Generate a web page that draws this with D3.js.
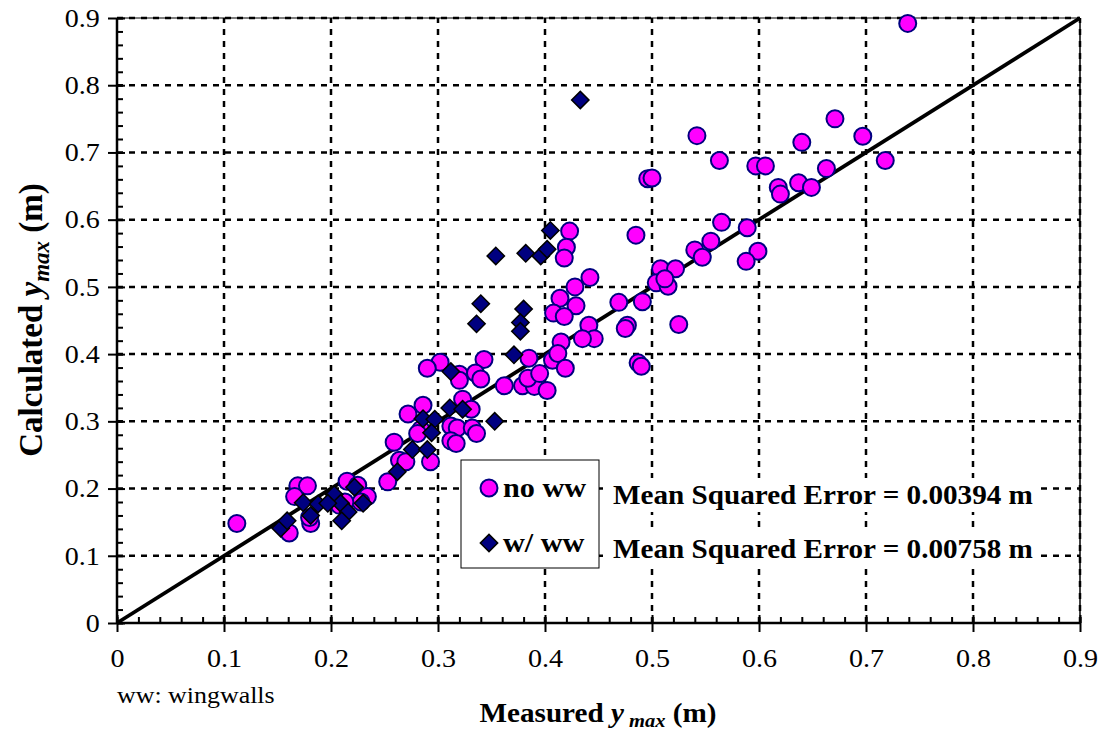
<!DOCTYPE html>
<html>
<head>
<meta charset="utf-8">
<script src="https://cdn.jsdelivr.net/npm/d3@7"></script>
<style>
  html, body { margin: 0; padding: 0; background: #fff; }
  svg { display: block; }
  text { font-family: "Liberation Serif", "Times New Roman", serif; fill: #000; }
</style>
</head>
<body>
<svg id="chart" width="1103" height="734"></svg>
<script>
// ---- data (measured, calculated) ----
const noWW = [
  [0.739,0.892],[0.671,0.750],[0.542,0.725],[0.697,0.724],[0.640,0.715],[0.563,0.688],[0.718,0.688],
  [0.597,0.680],[0.606,0.680],[0.496,0.661],[0.500,0.662],[0.663,0.676],[0.618,0.648],[0.620,0.638],
  [0.637,0.655],[0.649,0.648],[0.565,0.596],[0.589,0.588],[0.485,0.577],[0.599,0.553],[0.588,0.538],
  [0.555,0.568],[0.540,0.555],[0.547,0.544],[0.508,0.527],[0.522,0.527],[0.504,0.506],[0.515,0.501],
  [0.512,0.512],[0.491,0.478],[0.469,0.477],[0.525,0.444],[0.477,0.443],[0.475,0.438],[0.441,0.443],
  [0.446,0.423],[0.435,0.423],[0.442,0.514],[0.428,0.500],[0.429,0.472],[0.414,0.483],[0.408,0.461],
  [0.418,0.456],[0.423,0.583],[0.420,0.559],[0.418,0.543],[0.415,0.418],[0.407,0.391],[0.412,0.401],
  [0.419,0.379],[0.385,0.394],[0.487,0.387],[0.490,0.382],[0.343,0.392],[0.302,0.388],[0.290,0.379],
  [0.320,0.370],[0.320,0.361],[0.335,0.372],[0.340,0.363],[0.362,0.353],[0.379,0.353],[0.390,0.352],
  [0.384,0.364],[0.395,0.371],[0.402,0.346],[0.286,0.324],[0.272,0.311],[0.323,0.333],[0.331,0.318],
  [0.312,0.293],[0.318,0.290],[0.332,0.290],[0.336,0.282],[0.312,0.271],[0.317,0.267],[0.284,0.288],
  [0.281,0.282],[0.259,0.269],[0.293,0.240],[0.264,0.242],[0.270,0.240],[0.215,0.211],[0.225,0.205],
  [0.253,0.210],[0.112,0.148],[0.161,0.134],[0.169,0.204],[0.178,0.204],[0.166,0.188],[0.181,0.148],
  [0.234,0.188],[0.228,0.180],[0.180,0.157],[0.208,0.175],[0.213,0.180]
];
const withWW = [
  [0.433,0.778],[0.405,0.584],[0.354,0.546],[0.382,0.550],[0.396,0.546],[0.402,0.556],[0.340,0.475],
  [0.336,0.445],[0.380,0.467],[0.377,0.447],[0.377,0.434],[0.371,0.399],[0.312,0.374],[0.353,0.300],
  [0.311,0.320],[0.323,0.318],[0.286,0.304],[0.297,0.303],[0.294,0.283],[0.276,0.258],[0.290,0.258],
  [0.262,0.225],[0.153,0.141],[0.159,0.152],[0.174,0.179],[0.188,0.177],[0.181,0.160],[0.203,0.191],
  [0.209,0.178],[0.216,0.165],[0.210,0.152],[0.222,0.202],[0.230,0.178],[0.197,0.178]
];
const majorTicks = [0,0.1,0.2,0.3,0.4,0.5,0.6,0.7,0.8,0.9];
const tickLabels = ["0","0.1","0.2","0.3","0.4","0.5","0.6","0.7","0.8","0.9"];
const minorTicks = d3.range(0, 46).map(i => +(i*0.02).toFixed(2)).filter(v => v <= 0.9);
const legendLabels = ["no ww", "w/ ww"];
const mseLabels = ["Mean Squared Error = 0.00394 m", "Mean Squared Error = 0.00758 m"];
const noteLabel = "ww: wingwalls";

// ---- layout ----
const FONT = '"Liberation Serif", "Times New Roman", serif';
const SX = 1.08; // horizontal text stretch seen in the reference
const svg = d3.select("#chart");
const x = d3.scaleLinear().domain([0, 0.9]).range([117, 1080]);
const y = d3.scaleLinear().domain([0, 0.9]).range([623, 18]);

function label(parent, tx, ty, size, bold) {
  return parent.append("text")
    .attr("transform", `translate(${tx},${ty}) scale(${SX},1)`)
    .style("font-family", FONT).style("font-size", size + "px")
    .style("font-weight", bold ? "bold" : "normal");
}

// grid
const grid = svg.append("g");
grid.selectAll("line.v").data(majorTicks.slice(1)).enter().append("line")
  .attr("x1", d => x(d)).attr("x2", d => x(d)).attr("y1", y(0)).attr("y2", y(0.9))
  .attr("stroke", "#000").attr("stroke-width", 2.5).attr("stroke-dasharray", "6,6");
grid.selectAll("line.h").data(majorTicks.slice(1)).enter().append("line")
  .attr("x1", x(0)).attr("x2", x(0.9)).attr("y1", d => y(d)).attr("y2", d => y(d))
  .attr("stroke", "#000").attr("stroke-width", 2.5).attr("stroke-dasharray", "6,6");

// frame top/right
svg.append("line").attr("x1", x(0)).attr("x2", x(0.9)).attr("y1", y(0.9)).attr("y2", y(0.9))
  .attr("stroke", "#000").attr("stroke-width", 1.2);
svg.append("line").attr("x1", x(0.9)).attr("x2", x(0.9)).attr("y1", y(0)).attr("y2", y(0.9))
  .attr("stroke", "#000").attr("stroke-width", 1.5);

// 1:1 line
svg.append("line").attr("x1", x(0)).attr("y1", y(0)).attr("x2", x(0.9)).attr("y2", y(0.9))
  .attr("stroke", "#000").attr("stroke-width", 3.8);

// axes
function styleAxis(g) {
  g.attr("font-family", FONT);
  g.select(".domain").remove();
  g.selectAll(".tick line").attr("stroke", "#000").attr("stroke-width", 2);
}
svg.append("g").attr("transform", `translate(0,${y(0)})`)
  .call(d3.axisBottom(x).tickValues(minorTicks).tickSize(-6).tickFormat(""))
  .call(styleAxis);
svg.append("g").attr("transform", `translate(${x(0)},0)`)
  .call(d3.axisLeft(y).tickValues(minorTicks).tickSize(-6).tickFormat(""))
  .call(styleAxis);
const xAx = svg.append("g").attr("transform", `translate(0,${y(0)})`)
  .call(d3.axisBottom(x).tickValues(majorTicks).tickSize(9).tickPadding(17)
        .tickFormat((d, i) => tickLabels[i]))
  .call(styleAxis);
xAx.selectAll(".tick line").attr("y1", -8);
xAx.selectAll("text").style("font-family", FONT).style("font-size", "26px")
  .attr("fill", "#000").attr("transform", `scale(${SX},1)`);
const yAx = svg.append("g").attr("transform", `translate(${x(0)},0)`)
  .call(d3.axisLeft(y).tickValues(majorTicks).tickSize(9).tickPadding(7)
        .tickFormat((d, i) => tickLabels[i]))
  .call(styleAxis);
yAx.selectAll(".tick line").attr("x1", 8);
yAx.selectAll("text").style("font-family", FONT).style("font-size", "26px")
  .attr("fill", "#000").attr("transform", `scale(${SX},1)`);

svg.append("line").attr("x1", x(0)).attr("x2", x(0.9)).attr("y1", y(0)).attr("y2", y(0))
  .attr("stroke", "#000").attr("stroke-width", 2.5);
svg.append("line").attr("x1", x(0)).attr("x2", x(0)).attr("y1", y(0)).attr("y2", y(0.9))
  .attr("stroke", "#000").attr("stroke-width", 2.5);

// points
svg.append("g").selectAll("circle").data(noWW).enter().append("circle")
  .attr("cx", d => x(d[0])).attr("cy", d => y(d[1])).attr("r", 8.5)
  .attr("fill", "#FF00FF").attr("stroke", "#000080").attr("stroke-width", 2);
const diamond = d3.symbol().type(d3.symbolSquare).size(150);
svg.append("g").selectAll("path").data(withWW).enter().append("path")
  .attr("d", diamond)
  .attr("transform", d => `translate(${x(d[0])},${y(d[1])}) rotate(45)`)
  .attr("fill", "#000080").attr("stroke", "#000").attr("stroke-width", 1.5);

// legend
const lg = svg.append("g");
lg.append("rect").attr("x", 461).attr("y", 460).attr("width", 138).attr("height", 108)
  .attr("fill", "#fff").attr("stroke", "#000").attr("stroke-width", 1);
lg.append("circle").attr("cx", 489).attr("cy", 488).attr("r", 8.5)
  .attr("fill", "#FF00FF").attr("stroke", "#000080").attr("stroke-width", 2);
lg.append("path").attr("d", diamond).attr("transform", "translate(489,543) rotate(45)")
  .attr("fill", "#000080").attr("stroke", "#000").attr("stroke-width", 1.5);
legendLabels.forEach((t, i) => label(lg, 503, 497 + i * 55, 28, true).text(t));

// MSE labels
const mse = svg.append("g");
mseLabels.forEach((t, i) => {
  mse.append("rect").attr("x", 607).attr("y", 478 + i * 54).attr("width", 434).attr("height", 34)
    .attr("fill", "#fff");
  label(mse, 613, 504 + i * 54, 27, true).text(t);
});

// note
label(svg, 117, 703, 24, false).text(noteLabel);

// x title
const xt = label(svg, 598, 722, 27, true).attr("text-anchor", "middle");
xt.append("tspan").text("Measured ");
xt.append("tspan").style("font-style", "italic").text("y");
xt.append("tspan").style("font-style", "italic").style("font-size", "19px").attr("dy", 5).text(" max");
xt.append("tspan").attr("dy", -5).text("  (m)");

// y title
const yt = svg.append("text").attr("transform", "translate(42,320) rotate(-90)")
  .attr("text-anchor", "middle").style("font-family", FONT)
  .style("font-size", "33px").style("font-weight", "bold");
yt.append("tspan").text("Calculated ");
yt.append("tspan").style("font-style", "italic").text("y");
yt.append("tspan").style("font-style", "italic").style("font-size", "23px").attr("dy", 7).text("max");
yt.append("tspan").attr("dy", -7).text("  (m)");
</script>
</body>
</html>
